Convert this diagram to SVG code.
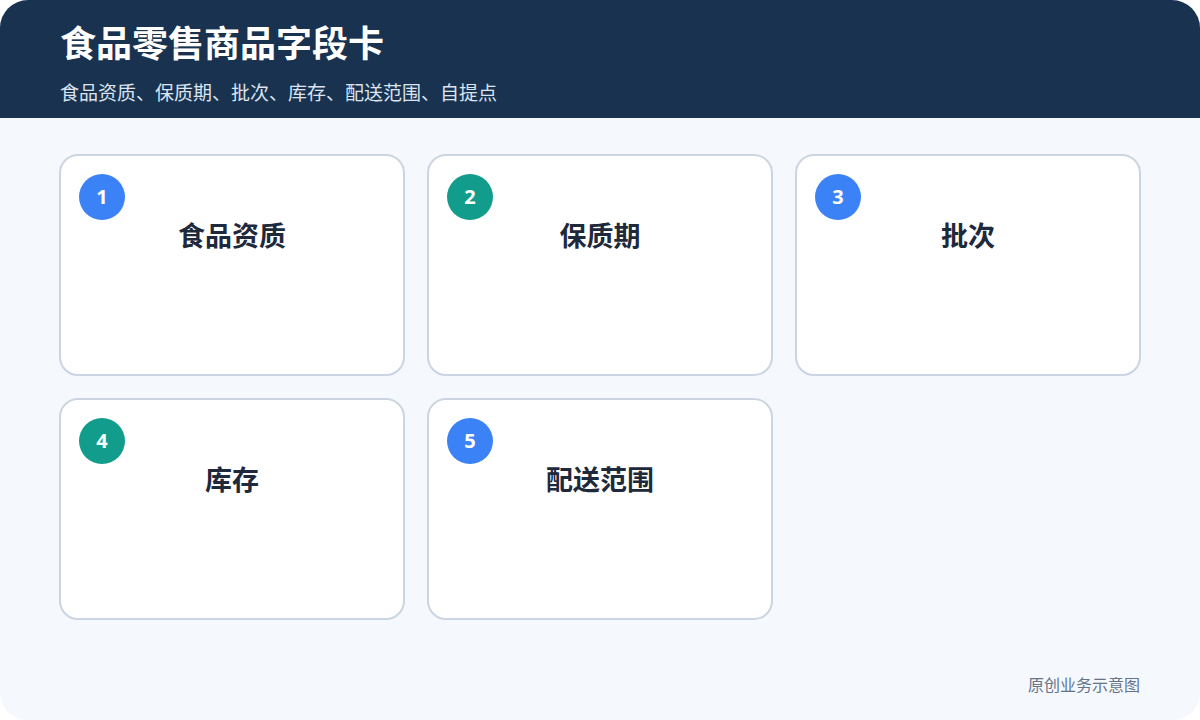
<svg xmlns="http://www.w3.org/2000/svg" width="1200" height="720" viewBox="0 0 1200 720">
<style>
.card{fill:#ffffff;stroke:#cbd5e1;stroke-width:2}
.t{font-family:"Noto Sans CJK SC","Noto Sans",sans-serif;font-weight:700;font-size:27px;fill:#1e293b;text-anchor:middle}
.n{font-family:"Noto Sans","Noto Sans CJK SC",sans-serif;font-weight:700;font-size:20px;fill:#ffffff;text-anchor:middle}
.blue{fill:#3b82f6}
.teal{fill:#119c8b}
</style>
<defs>
<clipPath id="page"><rect x="0" y="0" width="1200" height="720" rx="28"/></clipPath>
</defs>
<rect x="0" y="0" width="1200" height="720" fill="#ffffff"/>
<g clip-path="url(#page)">
<rect x="0" y="0" width="1200" height="720" fill="#f5f8fc"/>
<rect x="0" y="0" width="1200" height="118" fill="#183250"/>
</g>
<g id="header">
<text x="60" y="57" font-family="Noto Sans CJK SC,sans-serif" font-weight="700" font-size="36" fill="#ffffff">食品零售商品字段卡</text>
<text x="60" y="100" font-family="Noto Sans CJK SC,sans-serif" font-size="19" fill="#dbe4ef">食品资质、保质期、批次、库存、配送范围、自提点</text>
</g>
<g id="connectors"></g>
<g id="card1">
<rect class="card" x="60" y="155" width="344" height="220" rx="18"/>
<circle class="blue" cx="102" cy="197" r="23"/>
<text class="n" x="102" y="204">1</text>
<text class="t" x="232" y="246">食品资质</text>
</g>
<g id="card2">
<rect class="card" x="428" y="155" width="344" height="220" rx="18"/>
<circle class="teal" cx="470" cy="197" r="23"/>
<text class="n" x="470" y="204">2</text>
<text class="t" x="600" y="246">保质期</text>
</g>
<g id="card3">
<rect class="card" x="796" y="155" width="344" height="220" rx="18"/>
<circle class="blue" cx="838" cy="197" r="23"/>
<text class="n" x="838" y="204">3</text>
<text class="t" x="968" y="246">批次</text>
</g>
<g id="card4">
<rect class="card" x="60" y="399" width="344" height="220" rx="18"/>
<circle class="teal" cx="102" cy="441" r="23"/>
<text class="n" x="102" y="448">4</text>
<text class="t" x="232" y="490">库存</text>
</g>
<g id="card5">
<rect class="card" x="428" y="399" width="344" height="220" rx="18"/>
<circle class="blue" cx="470" cy="441" r="23"/>
<text class="n" x="470" y="448">5</text>
<text class="t" x="600" y="490">配送范围</text>
</g>
<text x="1140" y="691" text-anchor="end" font-family="Noto Sans CJK SC,sans-serif" font-size="16" fill="#64748b">原创业务示意图</text>
</svg>
